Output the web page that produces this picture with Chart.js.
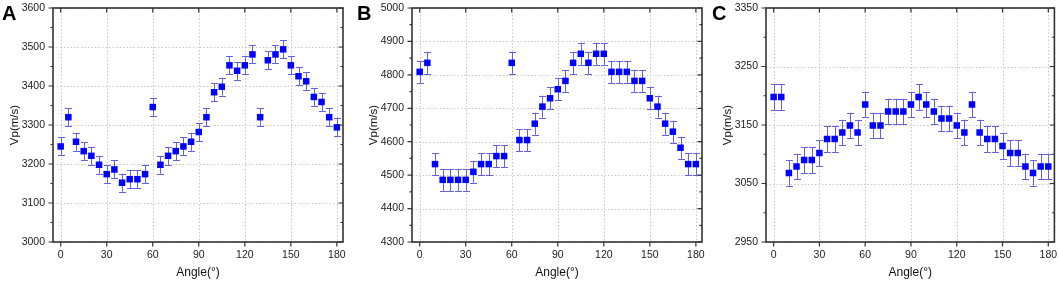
<!DOCTYPE html>
<html><head><meta charset="utf-8">
<script src="https://cdn.jsdelivr.net/npm/chart.js@4/dist/chart.umd.min.js"></script>
<style>
html,body{margin:0;padding:0;background:#fff;}
body{width:1059px;height:283px;position:relative;overflow:hidden;font-family:"Liberation Sans",Arial,sans-serif;}
canvas{position:absolute;top:0;}
.lbl{position:absolute;top:3px;font-weight:bold;font-size:20px;line-height:20px;color:#000;font-family:"Liberation Sans",Arial,sans-serif;}
</style>
</head><body>
<canvas id="cA" width="350" height="283" style="left:0px"></canvas>
<canvas id="cB" width="350" height="283" style="left:359px"></canvas>
<canvas id="cC" width="346" height="283" style="left:713px"></canvas>
<div class="lbl" style="left:2px">A</div>
<div class="lbl" style="left:357px">B</div>
<div class="lbl" style="left:712px">C</div>
<script>
// ---- data ----
const angles = [0,5,10,15,20,25,30,35,40,45,50,55,60,65,70,75,80,85,90,95,100,105,110,115,120,125,130,135,140,145,150,155,160,165,170,175,180];
const vpA = [3245,3320,3257,3233,3221,3198,3174,3186,3152,3161,3161,3174,3346,3198,3221,3233,3245,3257,3282,3320,3384,3398,3453,3439,3453,3481,3320,3466,3481,3494,3453,3425,3412,3372,3359,3320,3294];
const vpB = [4809,4836,4533,4486,4486,4486,4486,4510,4533,4533,4557,4557,4836,4605,4605,4654,4705,4730,4757,4782,4836,4863,4836,4863,4863,4809,4809,4809,4782,4782,4730,4705,4654,4630,4582,4533,4533];
const vpC = [3198,3198,3068,3079,3090,3090,3102,3126,3126,3137,3149,3137,3185,3149,3149,3173,3173,3173,3185,3198,3185,3173,3161,3161,3149,3137,3185,3137,3126,3126,3114,3102,3102,3079,3068,3079,3079];
const errA = [23,23,23,23,23,23,23,23,23,23,23,23,23,23,23,23,23,23,23,23,23,23,23,23,23,23,23,23,23,23,23,23,23,23,23,23,23];
const errB = [33,33,33,33,33,33,33,33,33,33,33,33,33,33,33,33,33,33,33,33,33,33,33,33,33,33,33,33,33,33,33,33,33,33,33,33,33];
const errC = [22,22,22,22,22,22,22,22,22,22,22,22,22,22,22,22,22,22,22,22,22,22,22,22,22,22,22,22,22,22,22,22,22,22,22,22,22];
const xTicks = [0,30,60,90,120,150,180];
const yTicksA = [3000,3100,3200,3300,3400,3500,3600];
const yTicksB = [4300,4400,4500,4600,4700,4800,4900,5000];
const yTicksC = [2950,3050,3150,3250,3350];
const xTitle = 'Angle(°)';
const yTitle = 'Vp(m/s)';

const FONT = '"Liberation Sans", Arial, sans-serif';

const framePlugin = {
  id: 'frame',
  beforeDatasetsDraw(chart) {
    const {ctx, chartArea: a, scales: {x, y}} = chart;
    ctx.save();
    ctx.strokeStyle = '#c8c8c8';
    ctx.lineWidth = 1;
    ctx.setLineDash([1.5, 2]);
    x.ticks.forEach(t => {
      const px = Math.round(x.getPixelForValue(t.value)) + 0.5;
      ctx.beginPath(); ctx.moveTo(px, a.top); ctx.lineTo(px, a.bottom); ctx.stroke();
    });
    y.ticks.forEach(t => {
      const py = Math.round(y.getPixelForValue(t.value)) + 0.5;
      ctx.beginPath(); ctx.moveTo(a.left, py); ctx.lineTo(a.right, py); ctx.stroke();
    });
    ctx.setLineDash([]);
    // error bars
    const ds = chart.data.datasets[0];
    ctx.strokeStyle = '#6262dc';
    ctx.lineWidth = 1;
    ds.data.forEach((p, i) => {
      const e = ds.errors[i];
      const px = Math.round(x.getPixelForValue(p.x)) + 0.5;
      const y1 = y.getPixelForValue(p.y + e);
      const y2 = y.getPixelForValue(p.y - e);
      ctx.beginPath();
      ctx.moveTo(px, y1); ctx.lineTo(px, y2);
      ctx.moveTo(px - 3.5, Math.round(y1) + 0.5); ctx.lineTo(px + 3.5, Math.round(y1) + 0.5);
      ctx.moveTo(px - 3.5, Math.round(y2) + 0.5); ctx.lineTo(px + 3.5, Math.round(y2) + 0.5);
      ctx.stroke();
    });
    ctx.restore();
  },
  afterDatasetsDraw(chart) {
    const {ctx, chartArea: a, scales: {x, y}} = chart;
    ctx.save();
    ctx.strokeStyle = '#333';
    ctx.lineWidth = 1.6;
    ctx.strokeRect(a.left, a.top, a.right - a.left, a.bottom - a.top);
    ctx.lineWidth = 1.2;
    ctx.beginPath();
    x.ticks.forEach(t => {
      const px = x.getPixelForValue(t.value);
      ctx.moveTo(px, a.bottom); ctx.lineTo(px, a.bottom + 4.5);
      ctx.moveTo(px, a.top); ctx.lineTo(px, a.top + 4.5);
    });
    const yt = y.ticks.map(t => t.value);
    const step = yt[1] - yt[0];
    yt.forEach(v => {
      const py = y.getPixelForValue(v);
      ctx.moveTo(a.left, py); ctx.lineTo(a.left - 4.5, py);
      ctx.moveTo(a.right, py); ctx.lineTo(a.right - 4.5, py);
    });
    for (let k = 0; k < yt.length - 1; k++) {
      const py = y.getPixelForValue(yt[k] + step / 2);
      ctx.moveTo(a.left, py); ctx.lineTo(a.left - 2.5, py);
      ctx.moveTo(a.right, py); ctx.lineTo(a.right - 2.5, py);
    }
    ctx.stroke();
    ctx.restore();
  }
};

function makeChart(id, vp, err, yTicks, padRight) {
  return new Chart(document.getElementById(id), {
    type: 'scatter',
    data: {
      datasets: [{
        data: angles.map((a, i) => ({x: a, y: vp[i]})),
        errors: err,
        pointStyle: 'rect',
        pointRadius: 4.6,
        pointHoverRadius: 4.6,
        backgroundColor: '#0000ff',
        borderColor: '#0000ff',
        borderWidth: 0,
        showLine: false
      }]
    },
    options: {
      responsive: false,
      animation: false,
      devicePixelRatio: 1,
      layout: {padding: {left: 0, right: padRight, top: 8, bottom: 0}},
      plugins: {legend: {display: false}, tooltip: {enabled: false}},
      scales: {
        x: {
          type: 'linear', min: -5, max: 184,
          afterBuildTicks: s => { s.ticks = xTicks.map(v => ({value: v})); },
          afterFit: s => { s.height = 41; s.paddingLeft = 0; s.paddingRight = 0; },
          grid: {display: false, drawTicks: false},
          border: {display: false},
          ticks: {color: '#222', font: {family: FONT, size: 10.5}, padding: 7, maxRotation: 0, autoSkip: false,
                  callback: v => String(v)},
          title: {display: true, text: xTitle, color: '#111', font: {family: FONT, size: 12}, padding: {top: 0, bottom: 3}}
        },
        y: {
          type: 'linear', min: yTicks[0], max: yTicks[yTicks.length - 1],
          afterBuildTicks: s => { s.ticks = yTicks.map(v => ({value: v})); },
          afterFit: s => { s.width = 53; s.paddingTop = 0; s.paddingBottom = 0; },
          grid: {display: false, drawTicks: false},
          border: {display: false},
          ticks: {color: '#222', font: {family: FONT, size: 10.5}, padding: 8, autoSkip: false,
                  callback: v => String(v)},
          title: {display: true, text: yTitle, color: '#111', font: {family: FONT, size: 11.5}, padding: {top: 8, bottom: 0}}
        }
      }
    },
    plugins: [framePlugin]
  });
}

makeChart('cA', vpA, errA, yTicksA, 7);
makeChart('cB', vpB, errB, yTicksB, 7);
makeChart('cC', vpC, errC, yTicksC, 3);
</script>
</body></html>
